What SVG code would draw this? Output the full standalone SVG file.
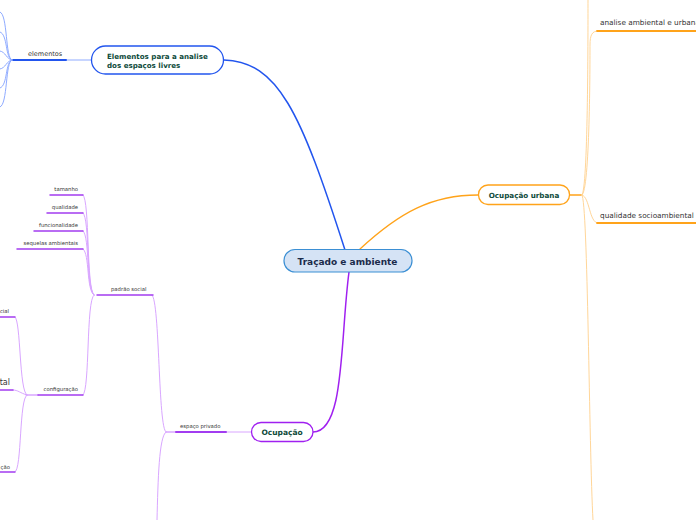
<svg xmlns="http://www.w3.org/2000/svg" width="696" height="520" viewBox="0 0 696 520">
<style>
.bg{fill:#ffffff}
.node{fill:#ffffff;stroke-width:1.3}
.nt{font-family:"DejaVu Sans",Verdana,sans-serif;font-weight:bold;fill:#0d4a3a}
.st{font-family:"DejaVu Sans",Verdana,sans-serif;fill:#333333}
.c{fill:none;stroke-linecap:round}
.b{stroke:#2255ee}
.bl{stroke:#8fabff}
.o{stroke:#ffa31a}
.ol{stroke:#ffd699}
.p{stroke:#a020f0}
.pl{stroke:#d9a6ff}
.pt{stroke:#a23cf0}
</style>
<rect class="bg" x="0" y="0" width="696" height="520"/>
<g id="connectors">
  <path class="c b" d="M224,60 C278,62 300,110 345,250" stroke-width="1.5"/>
  <path class="c o" d="M360,249 C400,212 432,195 478,195" stroke-width="1.3"/>
  <path class="c p" d="M349,272 C340,340 345,432 313,432" stroke-width="1.5"/>
  <path class="c bl" d="M66,60 L91,60" stroke-width="1"/>
  <path class="c b" d="M12,60 L66,60" stroke-width="2"/>
  <path class="c bl" d="M12,60 C5,59 8,14 0,12" stroke-width="1"/>
  <path class="c bl" d="M12,60 C5,59 8,34 0,32" stroke-width="1"/>
  <path class="c bl" d="M12,60 C6,59 6,52 0,51" stroke-width="1"/>
  <path class="c bl" d="M12,60 C6,61 6,68 0,69" stroke-width="1"/>
  <path class="c bl" d="M12,60 C5,61 8,86 0,88" stroke-width="1"/>
  <path class="c bl" d="M12,60 C5,61 8,105 0,107" stroke-width="1"/>
  <path class="c o" d="M570,195 L582,195" stroke-width="1.3"/>
  <path class="c ol" d="M582,195 C588,190 588,40 588,0" stroke-width="1"/>
  <path class="c ol" d="M582,195 C590,192 590,60 590,45 C590,35 592,31 598,31" stroke-width="1"/>
  <path class="c ol" d="M582,195 C590,197 589,223 598,223" stroke-width="1"/>
  <path class="c ol" d="M582,195 C588,200 589,450 593,520" stroke-width="1"/>
  <path class="c o" d="M597,31 L696,31" stroke-width="1.8"/>
  <path class="c o" d="M597,223 L696,223" stroke-width="1.8"/>
  <path class="c pl" d="M226,432 L251,432" stroke-width="1"/>
  <path class="c pl" d="M166,432 L176,432" stroke-width="1.3"/>
  <path class="c pt" d="M176,432 L226,432" stroke-width="2"/>
  <path class="c pl" d="M166,432 C158,430 160,300 152,295" stroke-width="1"/>
  <path class="c pl" d="M166,432 C159,436 158,480 157,520" stroke-width="1"/>
  <path class="c pt" d="M97,295 L153,295" stroke-width="1.5"/>
  <path class="c pl" d="M94,295 C86,290 90,200 83,195" stroke-width="1"/>
  <path class="c pl" d="M94,295 C86,290 90,218 83,213" stroke-width="1"/>
  <path class="c pl" d="M94,295 C86,290 90,236 83,231" stroke-width="1"/>
  <path class="c pl" d="M94,295 C86,290 90,254 83,249" stroke-width="1"/>
  <path class="c pl" d="M94,295 C86,300 90,390 83,395" stroke-width="1"/>
  <path class="c pt" d="M50,195 L83,195" stroke-width="1.5"/>
  <path class="c pt" d="M47,213 L83,213" stroke-width="1.5"/>
  <path class="c pt" d="M34,231 L83,231" stroke-width="1.5"/>
  <path class="c pt" d="M17,249 L83,249" stroke-width="1.5"/>
  <path class="c pl" d="M26,395 L38,395" stroke-width="1.3"/>
  <path class="c pt" d="M38,395 L83,395" stroke-width="1.5"/>
  <path class="c pl" d="M27,395 C19,392 21,320 15,317" stroke-width="1"/>
  <path class="c pl" d="M27,395 C20,393 18,390 13,390" stroke-width="1"/>
  <path class="c pl" d="M27,395 C19,398 22,470 15,472" stroke-width="1"/>
  <path class="c pt" d="M0,317 L15,317" stroke-width="1.5"/>
  <path class="c pt" d="M0,390 L13,390" stroke-width="1.5"/>
  <path class="c pt" d="M0,472 L15,472" stroke-width="1.5"/>
</g>
<g id="center">
  <rect x="284" y="249.5" width="128" height="22.5" rx="11" fill="#d5e3f5" stroke="#3b8fd4" stroke-width="1.2"/>
  <text x="347.5" y="264.5" text-anchor="middle" font-family="DejaVu Sans, Verdana, sans-serif" font-weight="bold" font-size="9" fill="#1b2b4b">Traçado e ambiente</text>
</g>
<g id="elementos-node">
  <rect class="node" x="91.5" y="46" width="132" height="28" rx="14" stroke="#2255ee"/>
  <text class="nt" x="107" y="59" font-size="7.1">Elementos para a analise</text>
  <text class="nt" x="107" y="68" font-size="7.1">dos espaços livres</text>
</g>
<g id="elementos">
  <text class="st" x="28" y="56" font-size="6.5">elementos</text>
</g>
<g id="ocupacao-urbana">
  <rect class="node" x="478.5" y="185" width="91" height="19.5" rx="9.5" stroke="#ffa31a"/>
  <text class="nt" x="524" y="197.5" text-anchor="middle" font-size="7.2">Ocupação urbana</text>
</g>
<g id="analise">
  <text class="st" x="600" y="25" font-size="7.3">analise ambiental e urbana</text>
</g>
<g id="qualidade-socio">
  <text class="st" x="600" y="218" font-size="7.3">qualidade socioambiental</text>
</g>
<g id="ocupacao">
  <rect class="node" x="251.5" y="422.5" width="61.5" height="19" rx="9.5" stroke="#a020f0"/>
  <text class="nt" x="282" y="435" text-anchor="middle" font-size="7.5">Ocupação</text>
</g>
<g id="espaco-privado">
  <text class="st" x="180" y="428" font-size="5.3">espaço privado</text>
</g>
<g id="padrao-social">
  <text class="st" x="111" y="291" font-size="5.3">padrão social</text>
</g>
<g id="tamanho"><text class="st" x="78" y="191" text-anchor="end" font-size="5.3">tamanho</text></g>
<g id="qualidade"><text class="st" x="78" y="209" text-anchor="end" font-size="5.3">qualidade</text></g>
<g id="funcionalidade"><text class="st" x="78" y="227" text-anchor="end" font-size="5.3">funcionalidade</text></g>
<g id="sequelas"><text class="st" x="78" y="245" text-anchor="end" font-size="5.3">sequelas ambientais</text></g>
<g id="configuracao"><text class="st" x="78" y="391" text-anchor="end" font-size="5.3">configuração</text></g>
<g id="cial"><text class="st" x="9" y="313" text-anchor="end" font-size="5.3">cial</text></g>
<g id="tal"><text class="st" x="10" y="385" text-anchor="end" font-size="8">tal</text></g>
<g id="cao"><text class="st" x="10" y="469" text-anchor="end" font-size="5.3">ção</text></g>
</svg>
